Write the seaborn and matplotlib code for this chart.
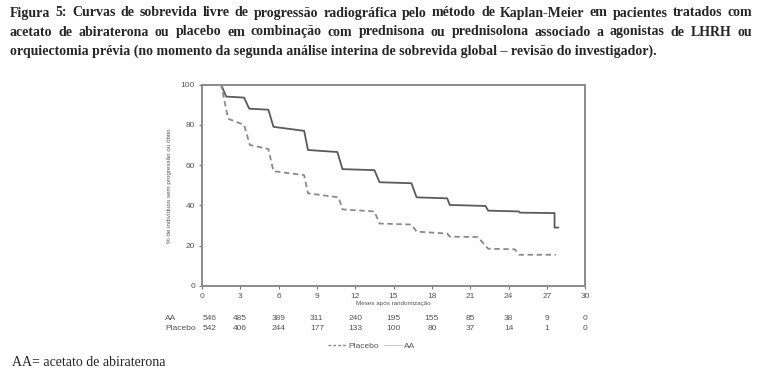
import matplotlib
matplotlib.use("Agg")
import matplotlib.pyplot as plt
import pandas as pd
import seaborn as sns
from matplotlib.lines import Line2D

# Kaplan-Meier curves (months, % without progression)
aa_t = [0, 1.5, 1.9, 3.3, 3.7, 5.2, 5.6, 8.0, 8.3, 10.6, 11.0, 13.5, 13.9, 16.4, 16.8,
        19.2, 19.4, 20.7, 22.2, 22.4, 24.8, 24.9, 27.6, 27.6, 27.9]
aa_s = [100, 100, 94, 93.5, 88, 87.5, 79, 77, 67.5, 66.5, 58, 57.5, 51.5, 51, 44,
        43.5, 40.2, 40, 39.7, 37.4, 37, 36.4, 36.2, 29, 29]
pl_t = [0, 1.5, 2.05, 3.3, 3.75, 5.2, 5.6, 8.0, 8.3, 10.7, 11.0, 13.5, 13.9, 16.4, 16.8,
        19.2, 19.4, 21.6, 22.4, 24.5, 24.8, 27.7]
pl_s = [100, 100, 83, 80, 70, 68, 57, 55, 46, 44, 38, 37, 31, 30.5, 27,
        26, 24.5, 24.3, 18.5, 18.2, 15.5, 15.5]

months = [0, 3, 6, 9, 12, 15, 18, 21, 24, 27, 30]
risk_aa = [546, 485, 389, 311, 240, 195, 155, 85, 38, 9, 0]
risk_placebo = [542, 406, 244, 177, 133, 100, 80, 37, 14, 1, 0]

title_lines = [
    "Figura 5: Curvas de sobrevida livre de progressão radiográfica pelo método de Kaplan-Meier em pacientes tratados com",
    "acetato de abiraterona ou placebo em combinação com prednisona ou prednisolona associado a agonistas de LHRH ou",
    "orquiectomia prévia (no momento da segunda análise interina de sobrevida global – revisão do investigador).",
]

df = pd.concat([
    pd.DataFrame({"t": aa_t, "s": aa_s, "grupo": "AA"}),
    pd.DataFrame({"t": pl_t, "s": pl_s, "grupo": "Placebo"}),
])

sns.set_style("white")
plt.rcParams["font.family"] = ["Liberation Sans", "DejaVu Sans"]

fig = plt.figure(figsize=(7.62, 3.79), dpi=100)
ax = fig.add_axes([0.265, 0.2454, 0.503, 0.5316])

sns.lineplot(data=df, x="t", y="s", hue="grupo", style="grupo",
             palette={"AA": "#5a5a5a", "Placebo": "#8a8a8a"},
             dashes={"AA": "", "Placebo": (3, 2)},
             estimator=None, sort=False, linewidth=1.3, legend=False, ax=ax)

ax.set_xlim(0, 30)
ax.set_ylim(0, 100)
ax.set_xticks(months)
ax.set_yticks([0, 20, 40, 60, 80, 100])
ax.tick_params(axis="both", labelsize=6, colors="#555555", length=2, width=0.6,
               direction="out", bottom=True, left=True, pad=3)
ax.set_xlabel("Meses após randomização", fontsize=4.5, color="#555555", labelpad=1)
ax.set_ylabel("% de indivíduos sem progressão ou óbito", fontsize=4.5, color="#555555",
              labelpad=6)
for sp in ax.spines.values():
    sp.set_color("#8a8a8a")
    sp.set_linewidth(1.4)

# number at risk table
trans = ax.get_xaxis_transform()
for row_y, name, vals in [(-0.16, "AA", risk_aa), (-0.21, "Placebo", risk_placebo)]:
    ax.text(-2.9, row_y, name, transform=trans, fontsize=6, color="#555555",
            ha="left", va="center")
    for m, v in zip(months, vals):
        xpos = m + 0.6 if m == 0 else m  # first column is pushed right by the row label
        ax.text(xpos, row_y, str(v), transform=trans, fontsize=6, color="#555555",
                ha="center", va="center")

handles = [Line2D([], [], color="#8a8a8a", lw=1, ls=(0, (2, 1.5))),
           Line2D([], [], color="#cccccc", lw=0.8)]
fig.legend(handles, ["Placebo", "AA"], loc="center", bbox_to_anchor=(0.488, 0.088),
           ncol=2, frameon=False, fontsize=6, handlelength=2.2, handletextpad=0.2,
           columnspacing=0.6, labelcolor="#555555")

# justified title (first two lines), last line left aligned
fig.canvas.draw()
renderer = fig.canvas.get_renderer()
x0, x1 = 10 / 762, 752 / 762
title_y = [1 - 16.5 / 379, 1 - 35.5 / 379, 1 - 54.5 / 379]
title_fs = 10
for i, line in enumerate(title_lines):
    words = line.split(" ")
    if i == len(title_lines) - 1:
        fig.text(x0, title_y[i], line, fontsize=title_fs, fontweight="bold",
                 family="Liberation Serif", va="baseline", ha="left")
        continue
    texts = [fig.text(0, title_y[i], w, fontsize=title_fs, fontweight="bold",
                      family="Liberation Serif", va="baseline", ha="left") for w in words]
    widths = [t.get_window_extent(renderer).width / fig.bbox.width for t in texts]
    gap = (x1 - x0 - sum(widths)) / (len(words) - 1)
    x = x0
    for t, w in zip(texts, widths):
        t.set_x(x)
        x += w + gap

fig.text(12 / 762, 1 - 362 / 379, "AA= acetato de abiraterona", fontsize=10,
         family="Liberation Serif", va="center", ha="left")

fig.savefig("out.png", dpi=100)
